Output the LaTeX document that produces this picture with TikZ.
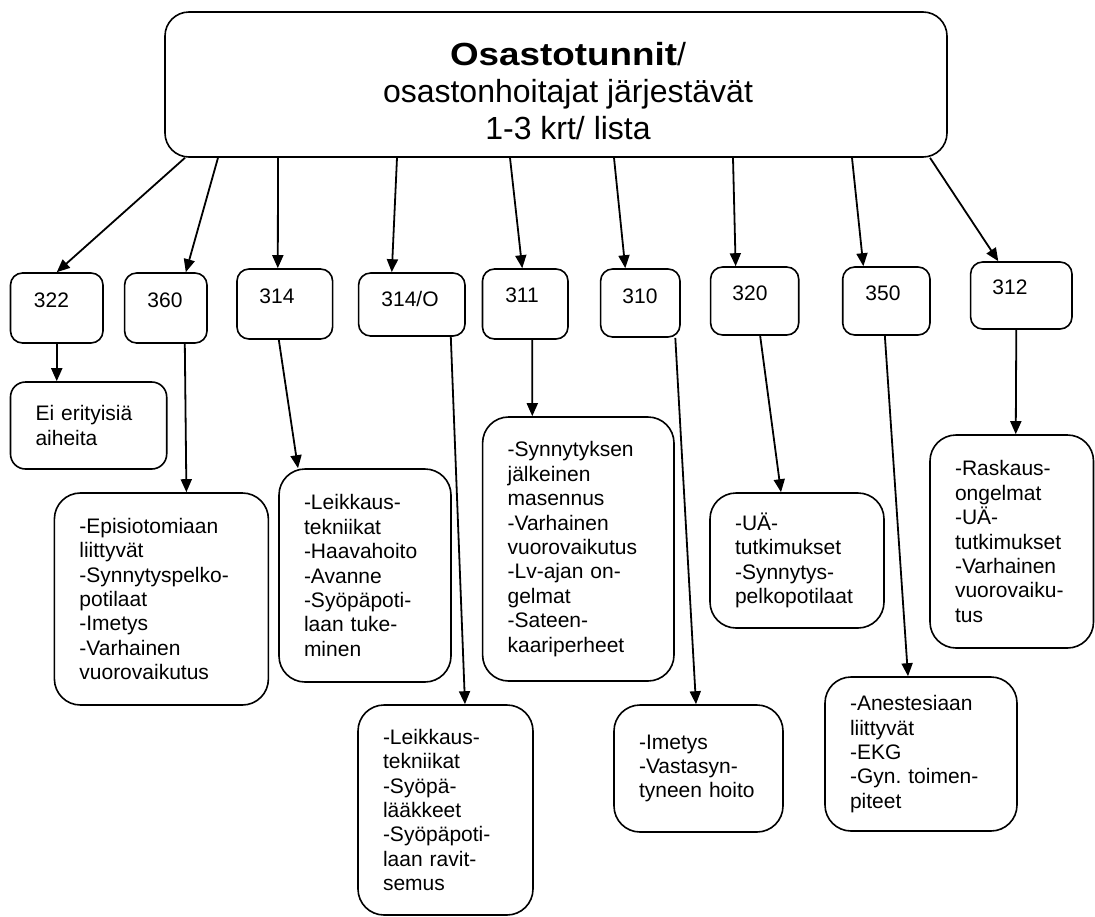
\documentclass[tikz,border=0pt]{standalone}
\usepackage{fontspec}
\setmainfont{Liberation Sans}
\usetikzlibrary{arrows.meta}
\newfontfamily\widebold[FakeStretch=1.15]{Liberation Sans Bold}
\newcommand\bodyfont{\fontsize{21}{24.4}\selectfont\hyphenpenalty=10000 }
\newcommand\headfont{\fontsize{32}{37}\selectfont}
\tikzset{
  numbox/.style 2 args={draw, line width=1.6pt, rounded corners=12pt, minimum width=#1pt, minimum height=#2pt, inner sep=0pt},
  topicbox/.style n args={3}{draw, line width=1.6pt, rounded corners=26pt, minimum width=#1pt, minimum height=#2pt,
    inner xsep=25pt, inner ysep=0pt, text width=#3pt, align=left, font=\bodyfont},
  numtext/.style={font=\bodyfont, inner sep=0pt},
  arr/.style={line width=1.8pt, -{Triangle[length=13pt,width=11pt]}}
}

\begin{document}
\begin{tikzpicture}[x=1pt,y=-1pt]
\useasboundingbox (0,0) rectangle (1095,916);

% main box
\node[numbox={782}{145}, rounded corners=24pt] (top) at (556,84.5) {};
\node[align=center, font=\headfont, inner sep=0pt] (title) at (568,91) {{\widebold Osastotunnit}/\\osastonhoitajat järjestävät\\1-3 krt/ lista};

% ward numbers
\node[numbox={92.5}{70}] (n322) at (56.75,308) {};
\node[numtext] (l322) at (51.5,300) {322};
\node[numbox={82.4}{70}] (n360) at (165.8,308) {};
\node[numtext] (l360) at (165,300) {360};
\node[numbox={95.6}{70}] (n314) at (284.8,304) {};
\node[numtext] (l314) at (277,296) {314};
\node[numbox={106.4}{63}] (n314O) at (411.8,304.5) {};
\node[numtext] (l314O) at (410,299) {314/O};
\node[numbox={85.5}{70}] (n311) at (525.25,304) {};
\node[numtext] (l311) at (522,295) {311};
\node[numbox={79.4}{68}] (n310) at (640.3,303) {};
\node[numtext] (l310) at (640,296) {310};
\node[numbox={88.1}{68}] (n320) at (754.65,301) {};
\node[numtext] (l320) at (750,293) {320};
\node[numbox={87.3}{68}] (n350) at (886.35,301) {};
\node[numtext] (l350) at (883,293) {350};
\node[numbox={101.4}{67}] (n312) at (1021.3,295.5) {};
\node[numtext] (l312) at (1010,287) {312};

% topics
\node[topicbox={156.2}{87}{106.2}, rounded corners=15pt] (ei) at (88.6,425.5) {Ei erityisiä\\aiheita};
\node[topicbox={214}{212}{164}] (d360) at (161.4,599) {-Episiotomiaan\\liittyvät\\-Synnytyspelko-\\potilaat\\-Imetys\\-Varhainen\\vuorovaikutus};
\node[topicbox={172}{213}{122}] (d314) at (365,575.5) {-Leikkaus-\\tekniikat\\-Haavahoito\\-Avanne\\-Syöpäpoti-\\laan tuke-\\minen};
\node[topicbox={175}{210}{125}] (d314O) at (445.5,810) {-Leikkaus-\\tekniikat\\-Syöpä-\\lääkkeet\\-Syöpäpoti-\\laan ravit-\\semus};
\node[topicbox={191.4}{264}{141.4}] (d311) at (578.3,549) {-Synnytyksen\\jälkeinen\\masennus\\-Varhainen\\vuorovaikutus\\-Lv-ajan on-\\gelmat\\-Sateen-\\kaariperheet};
\node[topicbox={169}{127}{119}] (d310) at (698.5,768.5) {-Imetys\\-Vastasyn-\\tyneen hoito};
\node[topicbox={174}{135}{124}] (d320) at (797,560.5) {-UÄ-\\tutkimukset\\-Synnytys-\\pelkopotilaat};
\node[topicbox={192}{154}{142}] (d350) at (921,754) {-Anestesiaan\\liittyvät\\-EKG\\-Gyn.\ toimen-\\piteet};
\node[topicbox={163.5}{213}{113.5}] (d312) at (1011.75,541.5) {-Raskaus-\\ongelmat\\-UÄ-\\tutkimukset\\-Varhainen\\vuorovaiku-\\tus};

% main box to wards
\draw[arr] ([xshift=-371pt]top.south) -- (n322.north);
\draw[arr] ([xshift=-338pt]top.south) -- ([xshift=20pt]n360.north);
\draw[arr] ([xshift=-278pt]top.south) -- ([xshift=-7pt]n314.north);
\draw[arr] ([xshift=-159pt]top.south) -- ([xshift=-20pt]n314O.north);
\draw[arr] ([xshift=-46pt]top.south) -- ([xshift=-3pt]n311.north);
\draw[arr] ([xshift=58pt]top.south) -- ([xshift=-15pt]n310.north);
\draw[arr] ([xshift=177pt]top.south) -- ([xshift=-19pt]n320.north);
\draw[arr] ([xshift=296pt]top.south) -- ([xshift=-23pt]n350.north);
\draw[arr] ([xshift=374pt]top.south) -- ([xshift=-23pt]n312.north);

% wards to topics
\draw[arr] (n322.south) -- (n322.south |- ei.north);
\draw[arr] ([xshift=19pt]n360.south) -- ([xshift=25pt]d360.north);
\draw[arr] ([xshift=-6pt]n314.south) -- ([xshift=-67pt]d314.north);
\draw[arr] ([xshift=39pt]n314O.south) -- ([xshift=19.5pt]d314O.north);
\draw[arr] ([xshift=7pt]n311.south) -- ([xshift=-46pt]d311.north);
\draw[arr] ([xshift=35pt]n310.south) -- ([xshift=-2.5pt]d310.north);
\draw[arr] ([xshift=5.5pt]n320.south) -- ([xshift=-16pt]d320.north);
\draw[arr] ([xshift=-1.5pt]n350.south) -- ([xshift=-13pt]d350.north);
\draw[arr] ([xshift=-5pt]n312.south) -- ([xshift=4pt]d312.north);

\end{tikzpicture}
\end{document}
